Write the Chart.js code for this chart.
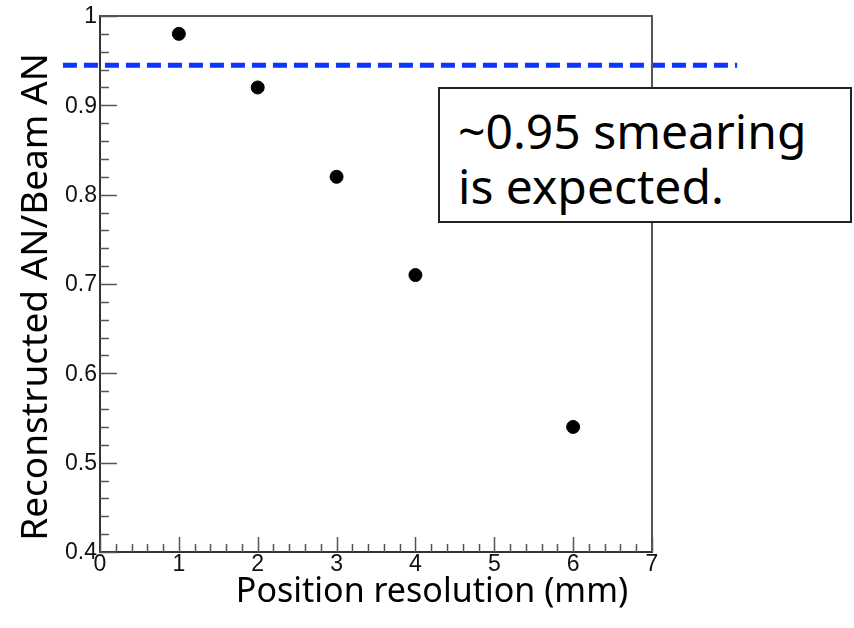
<!DOCTYPE html>
<html>
<head>
<meta charset="utf-8">
<script src="https://cdn.jsdelivr.net/npm/chart.js@4/dist/chart.umd.min.js"></script>
<style>
  html, body { margin: 0; padding: 0; background: #ffffff; }
  #wrap { position: relative; width: 854px; height: 628px; overflow: hidden; background: #fff; }
  #c { position: absolute; left: 0; top: 0; }
  .ttl { position: absolute; font-family: "Noto Sans", sans-serif; color: #000; white-space: nowrap; }
  #xTitle { left: 132px; top: 572px; width: 600px; text-align: center; font-size: 34px; line-height: 34px; height: 34px; }
  #yTitle { left: -267px; top: 278px; width: 600px; text-align: center; font-size: 37px; line-height: 38px; height: 38px; transform: rotate(-90deg); }
  #note { position: absolute; left: 438px; top: 87px; width: 410px; height: 132px; border: 2px solid #222;
          background: #fff; font-family: "Noto Sans", sans-serif; font-size: 48px; line-height: 55px;
          box-sizing: content-box; padding: 0; }
  #note div { padding-left: 18px; white-space: nowrap; }
</style>
</head>
<body>
<div id="wrap">
  <canvas id="c" width="854" height="628"></canvas>
  <div class="ttl" id="yTitle"></div>
  <div class="ttl" id="xTitle"></div>
  <div id="note"><div style="margin-top:14px" id="noteL1"></div><div id="noteL2"></div></div>
</div>
<script>
// ---- data ----
const resolutionMM = [1, 2, 3, 4, 6];
const anRatio = [0.98, 0.92, 0.82, 0.71, 0.54];
const expectedSmearing = 0.945;
const refLineX = [-0.47, 8.08];
const xTickValues = [0, 1, 2, 3, 4, 5, 6, 7];
const xTickLabels = ['0', '1', '2', '3', '4', '5', '6', '7'];
const yTickValues = [0.4, 0.5, 0.6, 0.7, 0.8, 0.9, 1];
const yTickLabels = ['0.4', '0.5', '0.6', '0.7', '0.8', '0.9', '1'];
const xAxisTitle = 'Position resolution (mm)';
const yAxisTitle = 'Reconstructed AN/Beam AN';
const noteLines = ['~0.95 smearing', 'is expected.'];

document.getElementById('xTitle').textContent = xAxisTitle;
document.getElementById('yTitle').textContent = yAxisTitle;
document.getElementById('noteL1').textContent = noteLines[0];
document.getElementById('noteL2').textContent = noteLines[1];

const TICK_FONT = '23px "Liberation Sans", Arial, sans-serif';

// ROOT-style inward ticks, tick labels and frame, placed with the chart's scales
const rootFrame = {
  id: 'rootFrame',
  afterDraw(chart) {
    const {ctx, chartArea: a} = chart;
    const xs = chart.scales.x, ys = chart.scales.y;
    ctx.save();
    ctx.strokeStyle = '#555';
    ctx.lineWidth = 2;
    ctx.beginPath();
    ctx.moveTo(a.left, a.top); ctx.lineTo(a.right, a.top); ctx.lineTo(a.right, a.bottom);
    ctx.stroke();
    ctx.lineWidth = 1.5;
    ctx.beginPath();
    const xMin = xTickValues[0], xMax = xTickValues[xTickValues.length - 1];
    const xStep = (xTickValues[1] - xTickValues[0]) / 5;
    for (let i = 0; i <= Math.round((xMax - xMin) / xStep); i++) {
      const v = xMin + i * xStep;
      const px = Math.round(xs.getPixelForValue(v)) + 0.5;
      const len = (i % 5 === 0) ? 15 : 8;
      ctx.moveTo(px, a.bottom); ctx.lineTo(px, a.bottom - len);
    }
    const yMin = yTickValues[0], yMax = yTickValues[yTickValues.length - 1];
    const yStep = (yTickValues[1] - yTickValues[0]) / 5;
    for (let i = 0; i <= Math.round((yMax - yMin) / yStep); i++) {
      const v = yMin + i * yStep;
      const py = Math.round(ys.getPixelForValue(v)) + 0.5;
      const len = (i % 5 === 0) ? 17 : 9;
      ctx.moveTo(a.left, py); ctx.lineTo(a.left + len, py);
    }
    ctx.stroke();
    // tick labels
    ctx.font = TICK_FONT;
    ctx.fillStyle = '#111';
    ctx.textAlign = 'right';
    ctx.textBaseline = 'middle';
    yTickValues.forEach((v, i) => {
      ctx.fillText(yTickLabels[i], a.left - 3, ys.getPixelForValue(v) + 1);
    });
    ctx.textAlign = 'center';
    ctx.textBaseline = 'top';
    xTickValues.forEach((v, i) => {
      ctx.fillText(xTickLabels[i], xs.getPixelForValue(v), a.bottom + 1);
    });
    ctx.restore();
  }
};

new Chart(document.getElementById('c'), {
  type: 'scatter',
  data: {
    datasets: [
      {
        label: 'points',
        data: resolutionMM.map((x, i) => ({x, y: anRatio[i]})),
        backgroundColor: '#000',
        borderColor: '#000',
        pointRadius: 6.5,
        pointHoverRadius: 6.5,
        order: 2
      },
      {
        label: 'expected',
        type: 'line',
        data: refLineX.map(x => ({x, y: expectedSmearing})),
        borderColor: '#0a36ff',
        borderWidth: 5,
        borderDash: [14, 7],
        pointRadius: 0,
        fill: false,
        clip: false,
        order: 1
      }
    ]
  },
  options: {
    responsive: false,
    animation: false,
    devicePixelRatio: 1,
    layout: { padding: { top: 16, right: 202, left: 0, bottom: 0 } },
    plugins: { legend: { display: false }, tooltip: { enabled: false } },
    scales: {
      x: {
        type: 'linear',
        min: xTickValues[0], max: xTickValues[xTickValues.length - 1],
        afterFit(s) { s.height = 76; },
        afterBuildTicks(s) { s.ticks = xTickValues.map(v => ({value: v})); },
        ticks: { display: false },
        grid: { display: false, drawTicks: false },
        border: { display: true, color: '#333', width: 2 }
      },
      y: {
        type: 'linear',
        min: yTickValues[0], max: yTickValues[yTickValues.length - 1],
        afterFit(s) { s.width = 100; },
        afterBuildTicks(s) { s.ticks = yTickValues.map(v => ({value: v})); },
        ticks: { display: false },
        grid: { display: false, drawTicks: false },
        border: { display: true, color: '#333', width: 2 }
      }
    }
  },
  plugins: [rootFrame]
});
</script>
</body>
</html>
